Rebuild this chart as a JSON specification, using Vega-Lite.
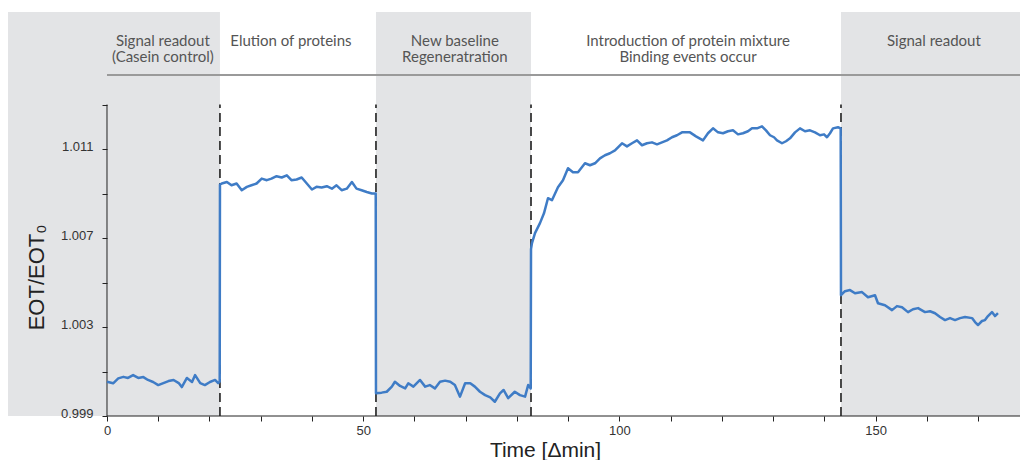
{
  "$schema": "https://vega.github.io/schema/vega-lite/v6.json",
  "width": 1012,
  "height": 404,
  "autosize": {"type": "none"},
  "padding": {"left": 8, "top": 12, "right": 2, "bottom": 44},
  "background": "white",
  "config": {"view": {"stroke": null}},
  "data": {"values": [{"one": 1}]},
  "datasets": {
    "bands": [{"start": -19.32, "end": 22.05}, {"start": 52.5, "end": 82.76}, {"start": 143.26, "end": 178.2}],
    "bounds": [{"t": 22.05}, {"t": 52.5}, {"t": 82.76}, {"t": 143.26}],
    "labels": [
      {"x": 10.9, "label": "Signal readout\n(Casein control)"},
      {"x": 35.9, "label": "Elution of proteins"},
      {"x": 67.9, "label": "New baseline\nRegeneratration"},
      {"x": 113.4, "label": "Introduction of protein mixture\nBinding events occur"},
      {"x": 161.4, "label": "Signal readout"}
    ],
    "signal": [
      {"t":0,"v":1.00054},{"t":1.2,"v":1.00047},{"t":2.2,"v":1.00069},{"t":3.2,"v":1.00076},{"t":4.1,"v":1.00071},{"t":5.1,"v":1.00084},{"t":6.1,"v":1.00071},{"t":7.1,"v":1.00075},{"t":8.0,"v":1.00062},{"t":9.0,"v":1.00053},{"t":10.0,"v":1.00039},{"t":11.0,"v":1.00048},{"t":12.0,"v":1.00057},{"t":13.0,"v":1.00062},{"t":14.0,"v":1.00048},{"t":14.6,"v":1.0003},{"t":15.6,"v":1.00071},{"t":16.6,"v":1.00053},{"t":17.2,"v":1.00084},{"t":18.2,"v":1.00048},{"t":19.1,"v":1.00039},{"t":20.1,"v":1.00053},{"t":21.1,"v":1.00062},{"t":21.7,"v":1.00048},{"t":22.0,"v":1.00055},
      {"t":22.05,"v":1.0094},
      {"t":22.4,"v":1.00945},{"t":23.4,"v":1.00952},{"t":24.3,"v":1.00937},{"t":25.3,"v":1.00945},{"t":26.3,"v":1.00915},{"t":27.3,"v":1.0093},{"t":28.2,"v":1.00937},{"t":29.2,"v":1.00945},{"t":30.2,"v":1.00967},{"t":31.2,"v":1.0096},{"t":32.1,"v":1.00967},{"t":33.1,"v":1.00978},{"t":34.1,"v":1.00972},{"t":35.1,"v":1.00982},{"t":36.0,"v":1.0096},{"t":37.0,"v":1.00963},{"t":38.0,"v":1.00972},{"t":39.0,"v":1.00945},{"t":40.0,"v":1.00918},{"t":40.9,"v":1.0093},{"t":41.9,"v":1.00927},{"t":42.9,"v":1.00933},{"t":43.9,"v":1.00922},{"t":44.8,"v":1.00937},{"t":45.8,"v":1.00915},{"t":46.8,"v":1.00922},{"t":47.8,"v":1.00952},{"t":48.7,"v":1.00922},{"t":49.7,"v":1.00915},{"t":50.7,"v":1.00907},{"t":51.7,"v":1.009},{"t":52.45,"v":1.009},
      {"t":52.5,"v":1.00002},
      {"t":53.6,"v":1.00005},{"t":54.6,"v":1.00009},{"t":55.6,"v":1.00032},{"t":56.2,"v":1.00054},{"t":57.2,"v":1.00035},{"t":58.2,"v":1.00024},{"t":58.8,"v":1.00047},{"t":59.8,"v":1.00032},{"t":61.1,"v":1.00062},{"t":62.1,"v":1.00032},{"t":63.0,"v":1.00039},{"t":64.0,"v":1.00024},{"t":65.0,"v":1.00054},{"t":66.0,"v":1.00059},{"t":67.0,"v":1.00054},{"t":67.9,"v":1.00039},{"t":68.9,"v":0.99987},{"t":69.9,"v":1.00047},{"t":70.9,"v":1.00047},{"t":71.8,"v":1.00032},{"t":72.8,"v":1.00009},{"t":73.8,"v":0.99994},{"t":74.8,"v":0.99984},{"t":75.7,"v":0.99964},{"t":76.7,"v":1.00002},{"t":77.4,"v":1.00017},{"t":78.3,"v":0.9998},{"t":79.6,"v":1.00009},{"t":80.6,"v":0.99994},{"t":81.6,"v":0.99987},{"t":82.2,"v":1.00039},{"t":82.7,"v":1.00024},
      {"t":82.76,"v":1.0065},
      {"t":82.95,"v":1.00677},{"t":83.54,"v":1.00722},{"t":84.51,"v":1.00767},{"t":85.29,"v":1.00811},{"t":86.07,"v":1.00879},{"t":86.85,"v":1.0087},{"t":88.02,"v":1.00928},{"t":89.0,"v":1.0096},{"t":89.98,"v":1.01014},{"t":90.95,"v":1.00996},{"t":91.93,"v":1.00996},{"t":93.29,"v":1.01036},{"t":94.27,"v":1.01027},{"t":95.25,"v":1.01036},{"t":96.22,"v":1.01058},{"t":97.2,"v":1.01072},{"t":98.17,"v":1.01081},{"t":99.15,"v":1.01094},{"t":100.52,"v":1.01126},{"t":101.49,"v":1.01112},{"t":102.47,"v":1.01126},{"t":103.45,"v":1.01139},{"t":104.42,"v":1.01117},{"t":105.4,"v":1.01126},{"t":106.37,"v":1.0113},{"t":107.35,"v":1.01121},{"t":108.32,"v":1.0113},{"t":109.3,"v":1.01139},{"t":110.28,"v":1.01153},{"t":111.25,"v":1.01162},{"t":112.23,"v":1.01175},{"t":113.79,"v":1.01175},{"t":114.96,"v":1.01157},{"t":116.33,"v":1.01139},{"t":117.3,"v":1.01171},{"t":118.28,"v":1.01193},{"t":119.26,"v":1.01175},{"t":120.23,"v":1.01171},{"t":121.21,"v":1.0118},{"t":122.18,"v":1.01184},{"t":123.16,"v":1.01166},{"t":124.13,"v":1.01171},{"t":125.11,"v":1.0118},{"t":125.89,"v":1.01193},{"t":126.87,"v":1.01193},{"t":127.84,"v":1.01202},{"t":128.62,"v":1.01184},{"t":129.41,"v":1.01162},{"t":130.19,"v":1.01153},{"t":130.77,"v":1.01139},{"t":131.75,"v":1.01126},{"t":132.53,"v":1.01135},{"t":133.31,"v":1.01148},{"t":134.29,"v":1.01175},{"t":135.26,"v":1.01193},{"t":136.24,"v":1.0118},{"t":137.21,"v":1.01184},{"t":138.19,"v":1.01175},{"t":139.17,"v":1.01162},{"t":139.95,"v":1.01166},{"t":140.53,"v":1.01153},{"t":141.12,"v":1.01171},{"t":141.7,"v":1.01193},{"t":142.68,"v":1.01198},{"t":143.2,"v":1.01193},
      {"t":143.26,"v":1.00443},
      {"t":144.04,"v":1.00461},{"t":145.02,"v":1.00466},{"t":146.0,"v":1.00452},{"t":147.36,"v":1.00457},{"t":148.53,"v":1.00434},{"t":149.9,"v":1.00443},{"t":150.48,"v":1.00407},{"t":151.85,"v":1.00398},{"t":153.22,"v":1.00376},{"t":154.19,"v":1.00394},{"t":155.17,"v":1.00389},{"t":156.34,"v":1.00367},{"t":157.32,"v":1.0038},{"t":158.3,"v":1.00385},{"t":159.66,"v":1.00367},{"t":160.64,"v":1.00371},{"t":161.62,"v":1.00362},{"t":162.59,"v":1.00345},{"t":163.57,"v":1.00331},{"t":164.54,"v":1.0034},{"t":165.52,"v":1.00331},{"t":166.5,"v":1.0034},{"t":167.47,"v":1.00345},{"t":168.84,"v":1.0034},{"t":169.42,"v":1.00322},{"t":170.0,"v":1.00309},{"t":170.78,"v":1.00327},{"t":171.37,"v":1.00331},{"t":171.95,"v":1.00349},{"t":172.73,"v":1.00367},{"t":173.32,"v":1.00349},{"t":173.9,"v":1.00362}
    ]
  },
  "layer": [
    {
      "data": {"name": "bands"},
      "mark": {"type": "rect", "color": "#e3e4e6"},
      "encoding": {
        "x": {"field": "start", "type": "quantitative", "scale": {"domain": [-19.32, 178.2], "nice": false, "zero": false},
          "axis": {
            "title": "Time [Δmin]",
            "zindex": 1,
            "values": [0, 10, 20, 30, 40, 50, 60, 70, 80, 90, 100, 110, 120, 130, 140, 150, 160, 170],
            "labelExpr": "datum.value % 50 === 0 ? datum.label : ''",
            "domain": false, "grid": false,
            "tickColor": "#222222", "tickSize": 5, "tickWidth": 1,
            "labelFont": "Liberation Sans", "labelFontSize": 13, "labelColor": "#333333", "labelPadding": 3,
            "labelFlush": false,
            "titleFont": "Liberation Sans", "titleFontSize": 21, "titleFontWeight": "normal", "titleColor": "#222222",
            "titleX": 537, "titleY": 40, "titleBaseline": "alphabetic", "titleAlign": "center"
          }
        },
        "x2": {"field": "end"},
        "y": {"datum": 0.999, "type": "quantitative", "scale": {"domain": [0.999, 1.01716], "nice": false, "zero": false},
          "axis": {
            "title": "EOT/EOT₀",
            "zindex": 1,
            "offset": -99,
            "values": [0.999, 1.001, 1.003, 1.005, 1.007, 1.009, 1.011, 1.013],
            "format": ".3f",
            "labelExpr": "round(datum.value * 1000) % 4 === 3 ? datum.label : ''",
            "domain": false, "grid": false,
            "tickColor": "#222222", "tickSize": 5, "tickWidth": 1,
            "labelFont": "Liberation Sans", "labelFontSize": 13, "labelColor": "#333333", "labelPadding": 9,
            "labelBaseline": "alphabetic", "labelOffset": 1, "labelFlush": false,
            "titleFont": "Liberation Sans", "titleFontSize": 22, "titleFontWeight": "normal", "titleColor": "#222222",
            "titleAngle": -90, "titleX": -64, "titleY": 265, "titleBaseline": "alphabetic", "titleAlign": "center"
          }
        },
        "y2": {"datum": 1.01716}
      }
    },
    {
      "mark": {"type": "rule", "color": "#9a9a9a", "strokeWidth": 2},
      "encoding": {
        "x": {"datum": 0, "type": "quantitative"},
        "x2": {"datum": 178.2},
        "y": {"datum": 1.01433, "type": "quantitative"}
      }
    },
    {
      "data": {"name": "bounds"},
      "mark": {"type": "rule", "color": "#111111", "strokeWidth": 1.5, "strokeDash": [9, 5]},
      "encoding": {
        "x": {"field": "t", "type": "quantitative"},
        "y": {"datum": 0.999, "type": "quantitative"},
        "y2": {"datum": 1.013}
      }
    },
    {
      "mark": {"type": "rule", "color": "#222222", "strokeWidth": 1},
      "encoding": {
        "x": {"datum": 0, "type": "quantitative"},
        "x2": {"datum": 178.2},
        "y": {"datum": 0.999, "type": "quantitative"}
      }
    },
    {
      "mark": {"type": "rule", "color": "#222222", "strokeWidth": 1},
      "encoding": {
        "x": {"datum": 0, "type": "quantitative"},
        "y": {"datum": 0.999, "type": "quantitative"},
        "y2": {"datum": 1.013}
      }
    },
    {
      "data": {"name": "signal"},
      "mark": {"type": "line", "color": "#3f7cc6", "strokeWidth": 2.5, "strokeJoin": "round"},
      "encoding": {
        "x": {"field": "t", "type": "quantitative"},
        "y": {"field": "v", "type": "quantitative"}
      }
    },
    {
      "data": {"name": "labels"},
      "mark": {"type": "text", "font": "Lato", "fontSize": 15, "color": "#555555", "align": "center", "baseline": "alphabetic", "lineBreak": "\n", "lineHeight": 16},
      "encoding": {
        "x": {"field": "x", "type": "quantitative"},
        "y": {"datum": 1.01563, "type": "quantitative"},
        "text": {"field": "label"}
      }
    }
  ]
}
